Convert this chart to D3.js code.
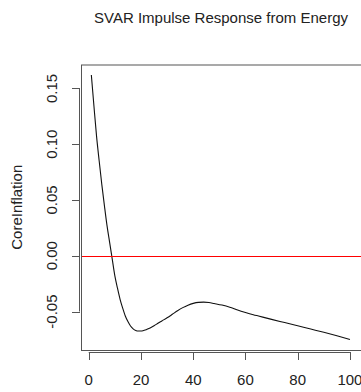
<!DOCTYPE html>
<html lang="en">
<head>
<meta charset="UTF-8">
<title>SVAR Impulse Response</title>
<script src="https://d3js.org/d3.v7.min.js"></script>
<style>
    body { margin: 0; background: #fff; }
    svg { display: block; font-family: "Liberation Sans", Arial, sans-serif; }
    .tick-label { font-size: 15px; fill: #222; }
    .zero-line { stroke: #ff0000; stroke-width: 1.2px; }
</style>
</head>
<body>
<svg id="chart" width="361" height="392"></svg>
<script>
// impulse response of CoreInflation to an Energy shock
const horizon = [1, 2, 3, 4, 5, 6, 7, 8, 9, 10, 11, 12, 13, 14, 15, 16, 17, 18, 19, 20,
    21, 22, 23, 24, 25, 26, 27, 28, 30, 32, 34, 36, 38, 40, 42, 44, 46, 48, 51, 54, 57,
    60, 63, 65, 70, 75, 80, 85, 90, 95, 100];
const response = [0.162, 0.134, 0.107, 0.085, 0.064, 0.045, 0.027, 0.012, -0.003, -0.018,
    -0.029, -0.039, -0.047, -0.054, -0.059, -0.063, -0.0655, -0.067, -0.0675, -0.0675,
    -0.0670, -0.0663, -0.0652, -0.0640, -0.0627, -0.0613, -0.0598, -0.0584, -0.0556,
    -0.0525, -0.0493, -0.0465, -0.0443, -0.0427, -0.0418, -0.0416, -0.0419, -0.0428,
    -0.0442, -0.0461, -0.0486, -0.0508, -0.0528, -0.0540, -0.0570, -0.0599, -0.0628,
    -0.0657, -0.0686, -0.0717, -0.0750];
const xTicks = [0, 20, 40, 60, 80, 100];
const yTicks = [-0.05, 0.00, 0.05, 0.10, 0.15];

const svg = d3.select("#chart");
const box = {left: 81, right: 361, top: 64.5, bottom: 350};

// R style 4% padding on both axes
const xr = d3.extent(horizon), yr = d3.extent(response);
const xpad = (xr[1] - xr[0]) * 0.04, ypad = (yr[1] - yr[0]) * 0.04;
const x = d3.scaleLinear().domain([xr[0] - xpad, xr[1] + xpad]).range([box.left, box.right - 0.7]);
const y = d3.scaleLinear().domain([yr[0] - ypad, yr[1] + ypad]).range([box.bottom, box.top]);

const data = horizon.map((h, i) => ({h: h, v: response[i]}));

// response curve
svg.append("path")
    .datum(data)
    .attr("fill", "none")
    .attr("stroke", "#111")
    .attr("stroke-width", 1.1)
    .attr("d", d3.line().x(d => x(d.h)).y(d => y(d.v)).curve(d3.curveMonotoneX));

// zero line
svg.append("line")
    .attr("class", "zero-line")
    .attr("x1", box.left).attr("x2", box.right)
    .attr("y1", Math.round(y(0)) + 0.5).attr("y2", Math.round(y(0)) + 0.5);

// box
svg.append("rect")
    .attr("x", box.left + 0.5).attr("y", box.top + 0.5)
    .attr("width", box.right - box.left).attr("height", box.bottom - box.top)
    .attr("fill", "none").attr("stroke", "#555").attr("stroke-width", 1);

// x axis
const xAxis = svg.append("g");
xAxis.append("line")
    .attr("x1", x(0)).attr("x2", x(100))
    .attr("y1", 352.5).attr("y2", 352.5)
    .attr("stroke", "#555");
xAxis.selectAll(".xt").data(xTicks).join("line")
    .attr("x1", d => Math.round(x(d)) + 0.5).attr("x2", d => Math.round(x(d)) + 0.5)
    .attr("y1", 352).attr("y2", 360)
    .attr("stroke", "#555");
xAxis.selectAll(".xl").data(xTicks).join("text")
    .attr("class", "tick-label")
    .attr("x", d => x(d)).attr("y", 385)
    .attr("text-anchor", "middle")
    .text(d => d);

// y axis
const yAxis = svg.append("g");
yAxis.append("line")
    .attr("x1", 79.5).attr("x2", 79.5)
    .attr("y1", y(-0.05)).attr("y2", y(0.15))
    .attr("stroke", "#555");
yAxis.selectAll(".yt").data(yTicks).join("line")
    .attr("x1", 72).attr("x2", 80)
    .attr("y1", d => Math.round(y(d)) + 0.5).attr("y2", d => Math.round(y(d)) + 0.5)
    .attr("stroke", "#555");
yAxis.selectAll(".yl").data(yTicks).join("text")
    .attr("class", "tick-label")
    .attr("transform", d => "translate(57," + y(d) + ") rotate(-90)")
    .attr("text-anchor", "middle")
    .text(d => d.toFixed(2));

// titles
svg.append("text")
    .attr("x", (box.left + box.right) / 2).attr("y", 23)
    .attr("text-anchor", "middle")
    .attr("font-size", 15).attr("fill", "#222")
    .text("SVAR Impulse Response from Energy");

svg.append("text")
    .attr("transform", "translate(22," + (box.top + box.bottom) / 2 + ") rotate(-90)")
    .attr("text-anchor", "middle")
    .attr("font-size", 15).attr("fill", "#222")
    .text("CoreInflation");
</script>
</body>
</html>
